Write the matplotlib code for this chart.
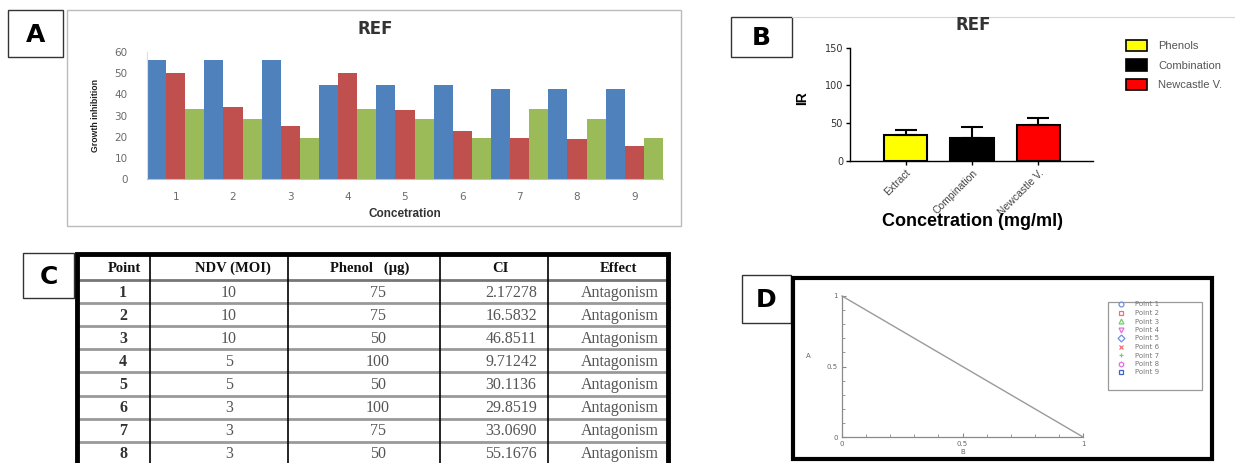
import matplotlib
matplotlib.use('Agg')
import matplotlib.pyplot as plt
from matplotlib.patches import Rectangle, Patch
from matplotlib.lines import Line2D
import numpy as np

W, H = 1235, 463

# ---------------- Panel A data ----------------
a_categories = ['1', '2', '3', '4', '5', '6', '7', '8', '9']
a_blue = [56, 56, 56, 44.5, 44.5, 44.5, 42.5, 42.5, 42.5]
a_red = [50, 34, 25, 50, 32.5, 23, 19.7, 18.8, 15.6]
a_green = [33.3, 28.6, 19.7, 33.3, 28.6, 19.7, 33.3, 28.6, 19.7]
a_yticks = [0, 10, 20, 30, 40, 50, 60]

# ---------------- Panel B data ----------------
b_categories = ['Extract', 'Compination', 'Newcastle V.']
b_values = [34, 30, 47]
b_errors = [7, 15, 9.5]
b_colors = ['#FFFF00', '#000000', '#FF0000']
b_legend = ['Phenols', 'Combination', 'Newcastle V.']
b_yticks = [0, 50, 100, 150]

# ---------------- Panel C data ----------------
c_headers = ['Point', 'NDV (MOI)', 'Phenol   (\u00b5g)', 'CI', 'Effect']
c_point = ['1', '2', '3', '4', '5', '6', '7', '8']
c_ndv = ['10', '10', '10', '5', '5', '3', '3', '3']
c_phenol = ['75', '75', '50', '100', '50', '100', '75', '50']
c_ci = ['2.17278', '16.5832', '46.8511', '9.71242', '30.1136', '29.8519', '33.0690', '55.1676']
c_effect = ['Antagonism'] * 8

# ---------------- Panel D data ----------------
d_iso_x = [0, 1]
d_iso_y = [1, 0]
d_points = ['Point 1', 'Point 2', 'Point 3', 'Point 4', 'Point 5',
            'Point 6', 'Point 7', 'Point 8', 'Point 9']
d_markers = ['o', 's', '^', 'v', 'D', 'x', '+', 'h', 's']
d_colors = ['#7090E0', '#F07070', '#70D070', '#E070E0', '#7090E0',
            '#F07070', '#70D070', '#E070E0', '#4060D0']


def rect(x0, y0, x1, y1):
    return [x0 / W, 1 - y1 / H, (x1 - x0) / W, (y1 - y0) / H]


fig = plt.figure(figsize=(W / 100, H / 100), dpi=100)
fig.patch.set_facecolor('white')

# background overlay in pixel coordinates
bg = fig.add_axes([0, 0, 1, 1])
bg.set_xlim(0, W)
bg.set_ylim(H, 0)
bg.axis('off')
bg.set_zorder(0)


def label_box(x0, y0, x1, y1, letter):
    bg.add_patch(Rectangle((x0, y0), x1 - x0, y1 - y0, fill=False,
                           edgecolor='#333333', lw=1.0))
    bg.text((x0 + x1) / 2, (y0 + y1) / 2 + 1, letter, ha='center', va='center',
            fontsize=18, fontweight='bold', family='DejaVu Sans', color='black')


label_box(8, 10, 63, 57, 'A')
label_box(731, 17, 792, 57, 'B')
label_box(23, 253, 74, 298, 'C')
label_box(742, 275, 791, 323, 'D')

# Panel A frame
bg.add_patch(Rectangle((67, 10), 681 - 67, 226 - 10, fill=False,
                       edgecolor='#BBBBBB', lw=1.0))
# faint line atop panel B
bg.plot([792, 1235], [17, 17], color='#D5D5D5', lw=0.8)

# ---------------- Panel A ----------------
axA = fig.add_axes(rect(147, 52, 663, 179.3))
axA.set_zorder(1)
xa = np.arange(1, len(a_categories) + 1)
w = 1 / 3
axA.bar(xa - w, a_blue, w, color='#4F81BD', linewidth=0)
axA.bar(xa, a_red, w, color='#C0504D', linewidth=0)
axA.bar(xa + w, a_green, w, color='#9BBB59', linewidth=0)
axA.set_xlim(0.5, 9.5)
axA.set_ylim(0, 60)
axA.set_xticks(xa)
axA.set_xticklabels(a_categories)
axA.set_yticks(a_yticks)
for s in ['top', 'right']:
    axA.spines[s].set_visible(False)
axA.spines['left'].set_color('#DDDDDD')
axA.spines['bottom'].set_color('#BFBFBF')
axA.tick_params(length=0, labelsize=7.5, colors='#6A6A6A')
axA.tick_params(axis='y', pad=14)
axA.tick_params(axis='x', pad=9)
axA.set_xlabel('Concetration', fontsize=8.5, fontweight='bold', color='#333333',
               labelpad=3, family='Liberation Sans')
axA.set_ylabel('Growth inhibition', fontsize=6.3, fontweight='bold', color='#222222',
               labelpad=4, family='Liberation Sans')
axA.yaxis.set_label_coords((100 - 147) / (663 - 147), 0.5)
axA.xaxis.set_label_coords(0.5, -(208 - 179.3) / (179.3 - 52))
bg.text(375, 29, 'REF', ha='center', va='center', fontsize=12, fontweight='bold',
        family='DejaVu Sans', color='#333333')

# ---------------- Panel B ----------------
axB = fig.add_axes(rect(850, 47.7, 1093, 161))
axB.set_zorder(1)
xb = np.arange(len(b_categories))
axB.bar(xb, b_values, 0.66, color=b_colors, edgecolor='black', linewidth=1.5)
axB.errorbar(xb, b_values, yerr=[np.zeros(len(b_values)), b_errors], fmt='none',
             ecolor='black', elinewidth=1.5, capsize=8, capthick=1.5)
axB.set_xlim(-0.835, 2.82)
axB.set_ylim(0, 150)
axB.set_yticks(b_yticks)
axB.set_xticks(xb)
axB.set_xticklabels(b_categories, rotation=45, ha='right', rotation_mode='anchor',
                    fontsize=7.5, family='Liberation Sans', color='#444444')
for s in ['top', 'right']:
    axB.spines[s].set_visible(False)
for s in ['left', 'bottom']:
    axB.spines[s].set_linewidth(1.0)
axB.tick_params(axis='y', labelsize=7, length=3, width=1, pad=2, labelcolor='#333333')
axB.tick_params(axis='x', length=3, width=1, pad=2)
axB.set_ylabel('IR', fontsize=10, fontweight='bold', family='Liberation Sans')
axB.yaxis.set_label_coords((802 - 850) / (1093 - 850), (161 - 98) / (161 - 47.7))
axB.yaxis.label.set_va('center')
axB.set_xlabel('Concetration (mg/ml)', fontsize=13, fontweight='bold',
               family='Liberation Sans')
axB.xaxis.set_label_coords((973 - 850) / (1093 - 850), -(222 - 161) / (161 - 47.7))
axB.xaxis.label.set_va('center')
bg.text(973, 25, 'REF', ha='center', va='center', fontsize=12, fontweight='bold',
        family='DejaVu Sans', color='#333333')
b_handles = [Patch(facecolor=c, edgecolor='black', linewidth=1.2) for c in b_colors]
fig.legend(b_handles, b_legend, loc='upper left',
           bbox_to_anchor=(1126 / W, 1 - 40 / H), frameon=False,
           prop={'family': 'Liberation Sans', 'size': 8}, labelcolor='#555555',
           handlelength=1.9, handleheight=1.2, labelspacing=0.72, handletextpad=1.0,
           borderaxespad=0, borderpad=0)

# ---------------- Panel C (table) ----------------
col_edges = [77, 150, 288, 440, 548, 668]
head_x = [124, 233, 370, 500, 618]
val_x = [123, 229, 378, 511, 620]
top_y = 254
head_bot = 280
row_h = 23.1
n_rows = len(c_point)
row_lines = [head_bot + row_h * k for k in range(1, n_rows + 1)]
# row separators
bg.plot([col_edges[0], col_edges[-1]], [head_bot, head_bot], color='#777777', lw=2.0)
for yl in row_lines:
    bg.plot([col_edges[0], col_edges[-1]], [yl, yl], color='#999999', lw=2.0)
# inner vertical lines
for xc in col_edges[1:-1]:
    bg.plot([xc, xc], [top_y, H + 5], color='black', lw=1.2)
# outer border
bg.plot([col_edges[0], col_edges[0], col_edges[-1], col_edges[-1]],
        [H + 5, top_y, top_y, H + 5], color='black', lw=3.5,
        solid_joinstyle='miter')
for hx, htxt in zip(head_x, c_headers):
    bg.text(hx, (top_y + head_bot) / 2 + 1, htxt, ha='center', va='center',
            fontsize=10.5, fontweight='bold', family='Liberation Serif', color='#111111')
columns = [c_point, c_ndv, c_phenol, c_ci, c_effect]
for ci, (vx, col) in enumerate(zip(val_x, columns)):
    for ri, val in enumerate(col):
        yc = head_bot + row_h * (ri + 0.5) + 1
        bg.text(vx, yc, val, ha='center', va='center', fontsize=11.5,
                fontweight='bold' if ci == 0 else 'normal',
                family='Liberation Serif', color='#333333' if ci == 0 else '#555555')

# ---------------- Panel D ----------------
bg.add_patch(Rectangle((793, 278), 1212 - 793, 459 - 278, fill=False,
                       edgecolor='black', lw=3))
axD = fig.add_axes(rect(842, 296, 1083, 437))
axD.set_zorder(1)
axD.patch.set_alpha(0)
axD.plot(d_iso_x, d_iso_y, color='#9A9A9A', lw=1.0, clip_on=False)
axD.set_xlim(0, 1)
axD.set_ylim(0, 1)
axD.set_xticks([0, 0.5, 1])
axD.set_yticks([0, 0.5, 1])
axD.set_xticklabels(['0', '0.5', '1'])
axD.set_yticklabels(['0', '0.5', '1'])
axD.set_xticks(np.arange(0, 1.01, 0.1), minor=True)
axD.set_yticks(np.arange(0, 1.01, 0.1), minor=True)
for s in ['top', 'right']:
    axD.spines[s].set_visible(False)
for s in ['left', 'bottom']:
    axD.spines[s].set_color('#8A8A8A')
    axD.spines[s].set_linewidth(0.9)
axD.tick_params(which='both', direction='in', colors='#8A8A8A', labelsize=5,
                labelcolor='#666666', pad=3)
axD.tick_params(which='major', length=3)
axD.tick_params(which='minor', length=2)
axD.set_xlabel('B', fontsize=5, color='#666666', labelpad=1)
axD.set_ylabel('A', fontsize=5, color='#666666', rotation=0, labelpad=8)
axD.yaxis.set_label_coords((808 - 842) / (1083 - 842), 0.55)
bg.add_patch(Rectangle((1108, 302), 1202 - 1108, 390 - 302, facecolor='white',
                       edgecolor='#999999', lw=0.9))
d_handles = [Line2D([], [], linestyle='none', marker=m, color=c, markerfacecolor='none',
                    markersize=3.5, markeredgewidth=0.9)
             for m, c in zip(d_markers, d_colors)]
legD = fig.legend(d_handles, d_points, loc='upper left',
                  bbox_to_anchor=(1114 / W, 1 - 301.5 / H), frameon=False,
                  prop={'size': 5}, labelcolor='#777777', handlelength=2.0,
                  labelspacing=0.36, handletextpad=1.0, borderaxespad=0, borderpad=0)

fig.savefig('out.png', dpi=100)
